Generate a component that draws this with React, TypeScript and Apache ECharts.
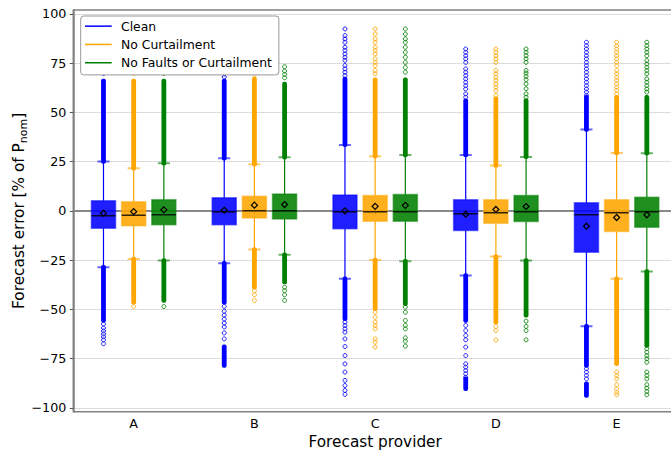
import React, { useEffect, useRef } from "react";
import * as echarts from "echarts";

const providers = ["A", "B", "C", "D", "E"];
const yTicks = [-100, -75, -50, -25, 0, 25, 50, 75, 100];

// Clean
const cleanQ1 = [-8.8, -7.0, -9.1, -10.0, -21.0];
const cleanMedian = [-2.5, -0.4, -0.4, -1.5, -2.0];
const cleanQ3 = [5.1, 6.6, 8.1, 5.6, 4.1];
const cleanWhiskerLow = [-28.6, -26.6, -34.5, -32.8, -58.6];
const cleanWhiskerHigh = [25.0, 26.7, 33.5, 28.4, 41.3];
const cleanMean = [-1.2, 0.3, 0.0, -1.7, -7.8];
const cleanDense = [
  [[25, 66], [-28.6, -55.7]],
  [[26.7, 66], [-26.6, -46.4], [-69, -78.5]],
  [[33.5, 67], [-34.5, -54.8]],
  [[28.4, 56], [-32.8, -55.7], [-85.3, -90.4]],
  [[41.3, 57.7], [-58.6, -78.5], [-87.8, -93.8]],
];
const cleanSparse = [
  [69.8, 73.6, -57.5, -59.5, -61, -62.5, -64, -65.5, -67.5],
  [68, 69.5, 71, 72.9, -48.5, -51, -53, -55, -57, -59, -62, -65],
  [92.4, 89, 87.3, 85.6, 83.1, 81.4, 79.7, 78, 76.4, 73.8, 72.1, 70.4, 68.7, -56.5, -58.2, -59.9, -61.6, -65, -68.9, -73.5, -77.7, -81.9, -86.1, -88.7, -91.2, -93.2],
  [82.2, 80.5, 78.8, 77.2, 75.4, 72.1, 70.4, 68.7, 67, 65.3, 63.6, 61.9, 59.4, 57.7, -58.2, -60.8, -63.3, -65.5, -69.2, -73.5, -77.7, -79.4, -81.1, -82.7, -84.5],
  [85.6, 83.9, 82.2, 80.5, 78.8, 77.2, 75.4, 73.8, 72.1, 70.4, 68.7, 67, 65.3, 63.6, 61.9, 60.3, 58.6, -80.2, -81.9, -83.6, -85.3],
];

// No Curtailment
const curtQ1 = [-7.6, -3.6, -5.3, -6.3, -10.5];
const curtMedian = [-2.2, 0.0, -0.4, -1.0, -1.0];
const curtQ3 = [4.6, 7.4, 7.8, 5.6, 5.6];
const curtWhiskerLow = [-24.4, -19.6, -24.9, -23.2, -34.5];
const curtWhiskerHigh = [21.6, 23.7, 27.7, 23.0, 29.4];
const curtMean = [-0.4, 2.9, 2.3, 0.7, -3.4];
const curtDense = [
  [[21.6, 66], [-24.4, -46.4]],
  [[23.7, 67], [-19.6, -38.8]],
  [[27.7, 66.6], [-24.9, -49.7]],
  [[23, 57], [-23.2, -56.5]],
  [[29.4, 57.7], [-34.5, -77.7]],
];
const curtSparse = [
  [69.8, -48.6],
  [69.3, 71, 72.9, -40.5, -42.6, -45.5],
  [92.4, 89.8, 87.3, 85.6, 83.1, 81.4, 79.7, 77.2, 75.4, 73.8, 71.3, 69.6, -51.5, -54, -56.5, -58.2, -59.9, -65, -66.7, -69.2],
  [82.2, 80.5, 78.8, 77.2, 75.4, 71.3, 69.6, 67.8, 66.2, 64.5, 62.8, 61.1, 58.6, -58.7, -60.8, -65.5],
  [85.6, 83.9, 82.2, 80.5, 78.8, 77.2, 75.4, 73.8, 71.3, 69.6, 67.8, 66.2, 64.5, 62.8, 61.1, 59.4, -81.9, -83.6, -85.3, -88.3, -90.4, -92.1, -93.4],
];

// No Faults or Curtailment
const faultQ1 = [-7.1, -4.1, -5.3, -5.4, -8.3];
const faultMedian = [-2.0, 0.0, -0.4, -0.5, -0.4];
const faultQ3 = [5.6, 8.6, 8.3, 7.8, 6.9];
const faultWhiskerLow = [-25.2, -22.3, -25.6, -25.2, -30.8];
const faultWhiskerHigh = [24.2, 27.2, 28.4, 27.4, 29.2];
const faultMean = [0.5, 3.2, 2.8, 2.2, -2.0];
const faultDense = [
  [[24.2, 66], [-25.2, -45.5]],
  [[27.2, 64.5], [-22.3, -36.2]],
  [[28.4, 66.6], [-25.6, -47.2]],
  [[27.4, 56], [-25.2, -53.1]],
  [[29.2, 57.7], [-30.8, -68.4]],
];
const faultSparse = [
  [69.8, -48.6],
  [67.6, 69.3, 71, 73.2, -38.8, -40.5, -42.6, -45.5],
  [92.4, 89.8, 87.3, 85.6, 83.1, 80.5, 78, 75.4, 72.8, 70.4, -48.9, -51.5, -55.7, -58.2, -59.9, -64.5, -66.2, -68.7],
  [82.2, 80.5, 78.8, 77.2, 75.4, 71.3, 70, 68.3, 66.6, 64.5, 62, 59.4, 57.7, -56, -58.7, -60.8, -65.5],
  [85.6, 83.9, 82.2, 80.5, 78.8, 76.3, 74.6, 72.9, 71.3, 69.6, 67, 65.3, 63.6, 61.9, 60.3, -70, -71.8, -73.5, -75.1, -76.9, -81.9, -83.6, -85.3, -88.3, -90, -91.7, -93.4],
];

const FONT = '"DejaVu Sans", sans-serif';

function makeSeries(
  name: string,
  rgb: string,
  offset: number,
  q1: number[], med: number[], q3: number[], wlo: number[], whi: number[], mean: number[],
  dense: number[][][], sparse: number[][]
) {
  const col = (a: number) => `rgba(${rgb},${a})`;
  return {
    type: "custom",
    name,
    z: 3,
    clip: true,
    itemStyle: { color: col(1) },
    encode: { x: 0, y: [1, 2, 3, 4, 5, 6] },
    data: providers.map((_, i) => [i + 1 + offset, q1[i], med[i], q3[i], wlo[i], whi[i], mean[i]]),
    renderItem: (params: any, api: any) => {
      const i = params.dataIndex;
      const xv = api.value(0);
      const cx = api.coord([xv, 0])[0];
      const Y = (v: number) => api.coord([xv, v])[1];
      const half = api.size([0.2, 0])[0] / 2;
      const capHalf = api.size([0.1, 0])[0] / 2;
      const vq1 = api.value(1), vmed = api.value(2), vq3 = api.value(3);
      const vlo = api.value(4), vhi = api.value(5), vmean = api.value(6);
      const children: any[] = [];
      children.push({ type: "line", shape: { x1: cx, y1: Y(vq3), x2: cx, y2: Y(vhi) }, style: { stroke: col(1), lineWidth: 1.2 } });
      children.push({ type: "line", shape: { x1: cx, y1: Y(vq1), x2: cx, y2: Y(vlo) }, style: { stroke: col(1), lineWidth: 1.2 } });
      for (const seg of dense[i]) {
        const a = Y(Math.max(seg[0], seg[1]));
        const b = Y(Math.min(seg[0], seg[1]));
        children.push({ type: "rect", shape: { x: cx - 2.4, y: a - 2.2, width: 4.8, height: b - a + 4.4, r: 2 }, style: { fill: col(1) } });
      }
      for (const v of sparse[i]) {
        children.push({ type: "circle", shape: { cx, cy: Y(v), r: 2 }, style: { fill: "none", stroke: col(0.85), lineWidth: 1 } });
      }
      children.push({ type: "line", shape: { x1: cx - capHalf, y1: Y(vhi), x2: cx + capHalf, y2: Y(vhi) }, style: { stroke: col(0.6), lineWidth: 2 } });
      children.push({ type: "line", shape: { x1: cx - capHalf, y1: Y(vlo), x2: cx + capHalf, y2: Y(vlo) }, style: { stroke: col(0.6), lineWidth: 2 } });
      children.push({
        type: "rect",
        shape: { x: cx - half, y: Y(vq3), width: 2 * half, height: Y(vq1) - Y(vq3) },
        style: { fill: col(0.88), stroke: col(0.5), lineWidth: 1.5 },
      });
      children.push({ type: "line", shape: { x1: cx - half, y1: Y(vmed), x2: cx + half, y2: Y(vmed) }, style: { stroke: "rgba(0,0,0,0.8)", lineWidth: 1.5 } });
      const my = Y(vmean);
      children.push({
        type: "polygon",
        shape: { points: [[cx, my - 3], [cx + 3, my], [cx, my + 3], [cx - 3, my]] },
        style: { fill: "none", stroke: "#000", lineWidth: 1.2 },
      });
      return { type: "group", children };
    },
  };
}

export default function App() {
  const ref = useRef<HTMLDivElement>(null);
  useEffect(() => {
    if (!ref.current) return;
    const chart = echarts.init(ref.current, undefined, { renderer: "svg" });
    const option: any = {
      animation: false,
      backgroundColor: "#fff",
      grid: {
        left: 73.3, right: -6, top: 10, bottom: 40.3,
        outerBoundsMode: "none", containLabel: false,
        show: true, borderColor: "#808080", borderWidth: 1.5, backgroundColor: "transparent",
      },
      legend: {
        data: ["Clean", "No Curtailment", "No Faults or Curtailment"],
        orient: "vertical",
        left: 80.7,
        top: 16,
        icon: "rect",
        itemWidth: 26.7,
        itemHeight: 1.5,
        itemGap: 0,
        padding: [1, 7, 3, 4.3],
        backgroundColor: "#fff",
        borderColor: "#999",
        borderWidth: 1,
        borderRadius: 3,
        selectedMode: false,
        textStyle: { fontSize: 12.4, fontFamily: FONT, color: "#000", lineHeight: 18.3, padding: [0, 0, 0, 4.3] },
      },
      xAxis: {
        type: "value",
        min: 0.5,
        max: 5.5,
        name: "Forecast provider",
        nameLocation: "middle",
        nameGap: 23,
        nameMoveOverlap: false,
        nameTextStyle: { fontSize: 15.3, fontFamily: FONT, color: "#000" },
        axisLine: { show: true, lineStyle: { color: "#808080", width: 1.5 } },
        axisTick: { show: true, length: 3.5, customValues: [1, 2, 3, 4, 5], lineStyle: { color: "#555", width: 1 } },
        axisLabel: {
          customValues: [1, 2, 3, 4, 5],
          formatter: (v: number) => providers[Math.round(v) - 1] ?? "",
          fontSize: 12.7,
          fontFamily: FONT,
          color: "#000",
          margin: 5,
        },
        splitLine: { show: false },
      },
      yAxis: {
        type: "value",
        min: -102,
        max: 102,
        name: "{a|Forecast error [% of P}{s|nom}{a|]}",
        nameLocation: "middle",
        nameGap: 44,
        nameMoveOverlap: false,
        nameRotate: 90,
        nameTextStyle: {
          fontFamily: FONT,
          color: "#000",
          rich: {
            a: { fontSize: 15.3, fontFamily: FONT, color: "#000", lineHeight: 20, verticalAlign: "middle" },
            s: { fontSize: 11, fontFamily: FONT, color: "#000", lineHeight: 11, verticalAlign: "bottom" },
          },
        },
        axisLine: { show: true, lineStyle: { color: "#808080", width: 1.5 } },
        axisTick: { show: true, length: 3.5, customValues: yTicks, lineStyle: { color: "#555", width: 1 } },
        axisLabel: {
          customValues: yTicks,
          formatter: (v: number) => (v < 0 ? "\u2212" + Math.abs(v) : String(v)),
          fontSize: 12.7,
          fontFamily: FONT,
          color: "#000",
          margin: 7,
        },
        splitLine: { show: true, lineStyle: { color: "#b8b8b8", type: "dotted", width: 1 } },
      },
      series: [
        {
          type: "line",
          name: "zero",
          data: [[0.5, 0], [5.5, 0]],
          symbol: "none",
          silent: true,
          z: 1,
          lineStyle: { color: "#808080", width: 1.3 },
        },
        makeSeries("Clean", "0,0,255", -0.25, cleanQ1, cleanMedian, cleanQ3, cleanWhiskerLow, cleanWhiskerHigh, cleanMean, cleanDense, cleanSparse),
        makeSeries("No Curtailment", "255,165,0", 0, curtQ1, curtMedian, curtQ3, curtWhiskerLow, curtWhiskerHigh, curtMean, curtDense, curtSparse),
        makeSeries("No Faults or Curtailment", "0,128,0", 0.25, faultQ1, faultMedian, faultQ3, faultWhiskerLow, faultWhiskerHigh, faultMean, faultDense, faultSparse),
      ],
    };
    chart.setOption(option);
    return () => chart.dispose();
  }, []);
  return <div ref={ref} style={{ width: 671, height: 452, position: "absolute", left: 0, top: 0 }} />;
}
